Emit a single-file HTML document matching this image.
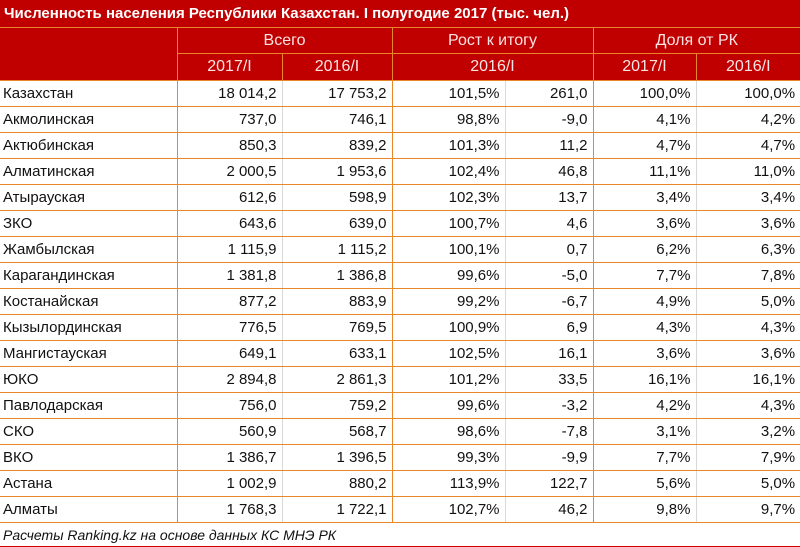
<!DOCTYPE html>
<html><head><meta charset="utf-8"><style>
body{margin:0;width:800px;height:547px;overflow:hidden;background:#fff;font-family:"Liberation Sans","Noto Sans CJK SC",sans-serif}
table{border-collapse:collapse;table-layout:fixed;width:800px;position:absolute;left:0;top:0}
td{padding:0 5px;font-size:15px;white-space:nowrap;overflow:hidden;color:#111}
.t td{background:#c00000;color:#fff;font-weight:bold;height:27px;font-size:15px;padding-left:4px;border-bottom:1px solid #e8872a}
.h td{background:#c00000;color:#fde3e3;text-align:center;height:25px;font-size:16px;border:1px solid #e8872a}
.h2 td{height:26px}
.h td.e{border-bottom:none;border-top:none}
.d td{height:25px;border:1px solid #e8872a;text-align:right}
.d td:first-child{text-align:left;padding-left:3px;border-left:none}
.d td.g{border-right:1px solid #d8d8d8}
.d td:last-child{border-right:none}
.f td{height:23px;border:1px solid #d40000;font-style:italic;font-size:14px;padding-left:3px}
</style></head><body>
<table>
<colgroup><col style="width:177px"><col style="width:105px"><col style="width:110px"><col style="width:113px"><col style="width:88px"><col style="width:103px"><col style="width:104px"></colgroup>
<tr class="t"><td colspan="7">Численность населения Республики Казахстан. I полугодие 2017 (тыс. чел.)</td></tr>
<tr class="h"><td class="e" rowspan="2" style="border-left:none"></td><td colspan="2">Всего</td><td colspan="2">Рост к итогу</td><td colspan="2" style="border-right:none">Доля от РК</td></tr>
<tr class="h h2"><td>2017/I</td><td>2016/I</td><td colspan="2">2016/I</td><td>2017/I</td><td style="border-right:none">2016/I</td></tr>
<tbody id="body"></tbody>
<tr class="f"><td colspan="7" style="border-left:none;border-right:none">Расчеты Ranking.kz на основе данных КС МНЭ РК</td></tr>
</table>
<script>
const regions=["Казахстан","Акмолинская","Актюбинская","Алматинская","Атырауская","ЗКО","Жамбылская","Карагандинская","Костанайская","Кызылординская","Мангистауская","ЮКО","Павлодарская","СКО","ВКО","Астана","Алматы"];
const pop2017=["18 014,2","737,0","850,3","2 000,5","612,6","643,6","1 115,9","1 381,8","877,2","776,5","649,1","2 894,8","756,0","560,9","1 386,7","1 002,9","1 768,3"];
const pop2016=["17 753,2","746,1","839,2","1 953,6","598,9","639,0","1 115,2","1 386,8","883,9","769,5","633,1","2 861,3","759,2","568,7","1 396,5","880,2","1 722,1"];
const growthPct=["101,5%","98,8%","101,3%","102,4%","102,3%","100,7%","100,1%","99,6%","99,2%","100,9%","102,5%","101,2%","99,6%","98,6%","99,3%","113,9%","102,7%"];
const growthAbs=["261,0","-9,0","11,2","46,8","13,7","4,6","0,7","-5,0","-6,7","6,9","16,1","33,5","-3,2","-7,8","-9,9","122,7","46,2"];
const share2017=["100,0%","4,1%","4,7%","11,1%","3,4%","3,6%","6,2%","7,7%","4,9%","4,3%","3,6%","16,1%","4,2%","3,1%","7,7%","5,6%","9,8%"];
const share2016=["100,0%","4,2%","4,7%","11,0%","3,4%","3,6%","6,3%","7,8%","5,0%","4,3%","3,6%","16,1%","4,3%","3,2%","7,9%","5,0%","9,7%"];
const body=document.getElementById('body');
regions.forEach((r,i)=>{
  const tr=document.createElement('tr');tr.className='d';
  
  
  const vals=[r,pop2017[i],pop2016[i],growthPct[i],growthAbs[i],share2017[i],share2016[i]];
  vals.forEach((v,j)=>{const td=document.createElement('td');td.textContent=v;
    if(j===1||j===3||j===5)td.className='g';
    
    
    tr.appendChild(td);});
  body.appendChild(tr);
});
</script>
</body></html>
